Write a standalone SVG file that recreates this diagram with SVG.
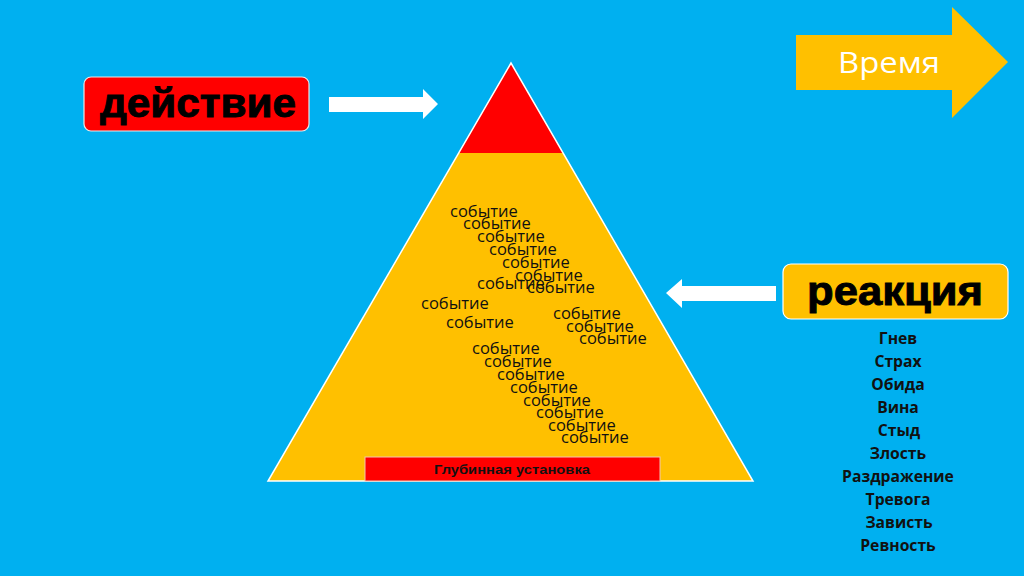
<svg xmlns="http://www.w3.org/2000/svg" width="1024" height="576" viewBox="0 0 1024 576">
<style>
.ev{font-family:"Open Sans","Noto Sans",sans-serif;font-size:16.5px;fill:#111}
.em{font-family:"Open Sans","Noto Sans",sans-serif;font-size:15.7px;font-weight:bold;fill:#111;text-anchor:middle}
.big{font-family:"Liberation Sans",Arial,sans-serif;font-weight:900;font-size:40px;fill:#000;stroke:#000;stroke-width:0.9;text-anchor:middle}
</style>
<rect width="1024" height="576" fill="#00B0F0"/>
<g id="pyramid">
<polygon points="511,63 268,481 753,481" fill="#FFC000"/>
<polygon points="511,63 459,153 563,153" fill="#FF0000"/>
<polygon points="511,63 268,481 753,481" fill="none" stroke="#FFFFFF" stroke-width="1.5"/>
</g>
<g id="base">
<rect x="365" y="457" width="295" height="24" fill="#FF0000" stroke="#F2C6B0" stroke-width="1"/>
<text x="512" y="474" font-family="Liberation Sans,Arial,sans-serif" font-weight="bold" font-size="12.5" fill="#111" text-anchor="middle" textLength="156" lengthAdjust="spacingAndGlyphs">Глубинная установка</text>
</g>
<g id="events">
<text class="ev" x="450" y="217">событие</text>
<text class="ev" x="463" y="229">событие</text>
<text class="ev" x="477" y="242">событие</text>
<text class="ev" x="489" y="255">событие</text>
<text class="ev" x="502" y="268">событие</text>
<text class="ev" x="515" y="281">событие</text>
<text class="ev" x="477" y="289">событие</text>
<text class="ev" x="527" y="293">событие</text>
<text class="ev" x="421" y="309">событие</text>
<text class="ev" x="446" y="328">событие</text>
<text class="ev" x="553" y="319">событие</text>
<text class="ev" x="566" y="332">событие</text>
<text class="ev" x="579" y="344">событие</text>
<text class="ev" x="472" y="354">событие</text>
<text class="ev" x="484" y="367">событие</text>
<text class="ev" x="497" y="380">событие</text>
<text class="ev" x="510" y="393">событие</text>
<text class="ev" x="523" y="406">событие</text>
<text class="ev" x="536" y="418">событие</text>
<text class="ev" x="548" y="431">событие</text>
<text class="ev" x="561" y="443">событие</text>
</g>
<g id="action">
<rect x="84" y="77" width="225" height="54" rx="7" fill="#FF0000" stroke="#E8E8E8" stroke-width="1.2"/>
<text class="big" x="198" y="117" textLength="196" lengthAdjust="spacingAndGlyphs">действие</text>
</g>
<g id="reaction">
<rect x="783" y="264" width="225" height="55" rx="8" fill="#FFC000" stroke="#FFFFFF" stroke-width="1.2"/>
<text class="big" x="895" y="305" textLength="176" lengthAdjust="spacingAndGlyphs">реакция</text>
</g>
<g id="time">
<polygon points="796,35 952,35 952,7 1008,62 952,118 952,90 796,90" fill="#FFC000"/>
<text x="889" y="73" font-family="Open Sans,Noto Sans,sans-serif" font-size="29" fill="#FFFFFF" text-anchor="middle" textLength="102" lengthAdjust="spacingAndGlyphs">Время</text>
</g>
<g id="emotions">
<text class="em" x="898" y="344">Гнев</text>
<text class="em" x="898" y="367">Страх</text>
<text class="em" x="898" y="390">Обида</text>
<text class="em" x="898" y="413">Вина</text>
<text class="em" x="899" y="436">Стыд</text>
<text class="em" x="898" y="459">Злость</text>
<text class="em" x="898" y="482">Раздражение</text>
<text class="em" x="898" y="505">Тревога</text>
<text class="em" x="899" y="528">Зависть</text>
<text class="em" x="898" y="551">Ревность</text>
</g>
<g id="connectors">
<polygon points="329,97 423,97 423,89 438,104 423,119 423,112 329,112" fill="#FFFFFF"/>
<polygon points="776,286 682,286 682,279 666,293 682,308 682,301 776,301" fill="#FFFFFF"/>
</g>
</svg>
